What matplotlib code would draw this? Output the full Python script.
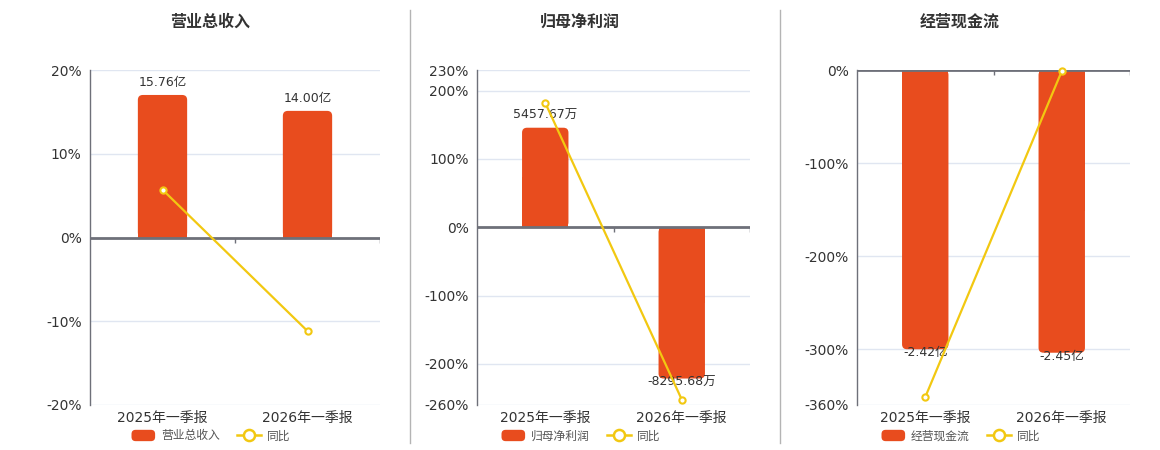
import matplotlib
matplotlib.use("Agg")
import matplotlib.pyplot as plt
from matplotlib.patches import FancyBboxPatch, Rectangle, Patch
from matplotlib.lines import Line2D
from matplotlib.legend_handler import HandlerPatch

plt.rcParams['font.family'] = ['DejaVu Sans', 'Noto Sans CJK SC']

# ---------------- data ----------------
categories = ["2025年一季报", "2026年一季报"]

titles = ["营业总收入", "归母净利润", "经营现金流"]
bar_names = ["营业总收入", "归母净利润", "经营现金流"]
line_name = "同比"

revenue = [15.76, 14.00]            # 亿
revenue_labels = ["15.76亿", "14.00亿"]
revenue_yoy = [5.71, -11.17]        # %

net_profit = [5457.67, -8295.68]    # 万
net_profit_labels = ["5457.67万", "-8295.68万"]
net_profit_yoy = [182.0, -252.0]    # %

cash_flow = [-2.42, -2.45]          # 亿
cash_flow_labels = ["-2.42亿", "-2.45亿"]
cash_flow_yoy = [-351.5, -1.24]     # %

pct_ticks = [[20, 10, 0, -10, -20],
             [230, 200, 100, 0, -100, -200, -260],
             [0, -100, -200, -300, -360]]

# bar-axis units per 1 % on the percent axis (zero-aligned dual axes)
bar_scale = [0.926, 37.49, 0.008064]

# ---------------- styles ----------------
BAR_C = "#E84C1E"
LINE_C = "#F2C811"
TXT = "#333333"
AXIS_C = "#6E7079"
GRID_C = "#E0E6F1"

W, H = 1160, 450
fig = plt.figure(figsize=(W / 100, H / 100), dpi=100)

panels_px = [(90, 380), (477, 750), (857, 1130)]
title_x = [210, 580, 960]
legend_cx = [211, 581, 961]
top_px, bot_px = 70, 405

bars_all = [revenue, net_profit, cash_flow]
labels_all = [revenue_labels, net_profit_labels, cash_flow_labels]
yoy_all = [revenue_yoy, net_profit_yoy, cash_flow_yoy]


def round_bars(ax, rects, r_px=5):
    bb = ax.get_position()
    wpx = bb.width * W
    hpx = bb.height * H
    x0, x1 = ax.get_xlim()
    y0, y1 = ax.get_ylim()
    sx = wpx / (x1 - x0)
    sy = hpx / (y1 - y0)
    for b in rects:
        x, y, w, h = b.get_x(), b.get_y(), b.get_width(), b.get_height()
        yb = min(y, y + h)
        hh = abs(h)
        rx = min(r_px / sx, w / 2)
        p = FancyBboxPatch((x, yb), w, hh,
                           boxstyle=f"round,pad=0,rounding_size={rx}",
                           mutation_aspect=sx / sy,
                           fc=BAR_C, ec='none', zorder=2)
        ax.add_patch(p)
        if h >= 0:
            sq = Rectangle((x, 0), w, hh / 2, fc=BAR_C, ec='none', zorder=2)
        else:
            sq = Rectangle((x, -hh / 2), w, hh / 2, fc=BAR_C, ec='none', zorder=2)
        ax.add_patch(sq)
        b.set_visible(False)


def rounded_handle(legend, orig_handle, xdescent, ydescent, width, height, fontsize):
    return FancyBboxPatch((-xdescent, -ydescent), width, height,
                          boxstyle="round,pad=0,rounding_size=3")


xs = list(range(len(categories)))

for i in range(3):
    l, r = panels_px[i]
    rect = [l / W, 1 - bot_px / H, (r - l) / W, (bot_px - top_px) / H]
    ax = fig.add_axes(rect)
    ticks = pct_ticks[i]
    ylo, yhi = min(ticks), max(ticks)
    ax.set_xlim(-0.5, len(categories) - 0.5)
    ax.set_ylim(ylo, yhi)
    for t in ticks:
        if t != 0:
            ax.axhline(t, color=GRID_C, lw=1, zorder=0)
    ax.set_yticks(ticks)
    ax.set_yticklabels([f"{t}%" for t in ticks])
    ax.set_xticks(xs)
    ax.set_xticklabels(categories)
    ax.tick_params(axis='y', length=0, pad=6, labelsize=10, labelcolor=TXT)
    ax.tick_params(axis='x', length=0, pad=4, labelsize=10, labelcolor=TXT)
    for s in ['top', 'right', 'bottom']:
        ax.spines[s].set_visible(False)
    ax.spines['left'].set_color(AXIS_C)
    ax.spines['left'].set_linewidth(1)

    # bars on a twin axis (hidden)
    axb = ax.twinx()
    k = bar_scale[i]
    axb.set_ylim(ylo * k, yhi * k)
    axb.set_xlim(-0.5, len(categories) - 0.5)
    axb.axis('off')
    rects = axb.bar(xs, bars_all[i], width=0.34, color=BAR_C, zorder=2)
    round_bars(axb, rects)
    for x, v, lab in zip(xs, bars_all[i], labels_all[i]):
        if v >= 0:
            axb.annotate(lab, (x, v), xytext=(0, 4), textcoords='offset points',
                         ha='center', va='bottom', fontsize=9, color=TXT, zorder=5)
        else:
            axb.annotate(lab, (x, v), xytext=(0, 2), textcoords='offset points',
                         ha='center', va='top', fontsize=9, color=TXT, zorder=5)

    # line on another twin axis
    axl = ax.twinx()
    axl.set_ylim(ylo, yhi)
    axl.set_xlim(-0.5, len(categories) - 0.5)
    axl.axis('off')
    # zero axis line with category ticks
    axl.axhline(0, color=AXIS_C, lw=2, zorder=3)
    tick_len = 5 * (yhi - ylo) / (bot_px - top_px)
    for bx in [0.5, 1.5]:
        axl.plot([bx, bx], [0, -tick_len], color=AXIS_C, lw=1, zorder=3,
                 solid_capstyle='butt')
    axl.plot(xs, yoy_all[i], color=LINE_C, lw=1.6, marker='o', markersize=4.5,
             markerfacecolor='white', markeredgecolor=LINE_C, markeredgewidth=1.5,
             zorder=4, clip_on=False)

    fig.text(title_x[i] / W, 1 - 22 / H, titles[i], ha='center', va='center',
             fontsize=11.5, fontweight='bold', color=TXT)

    bar_handle = Patch(facecolor=BAR_C, edgecolor='none', label=bar_names[i])
    line_handle = Line2D([0], [0], color=LINE_C, lw=1.8, marker='o', markersize=8,
                         markerfacecolor='white', markeredgecolor=LINE_C,
                         markeredgewidth=1.8, label=line_name)
    fig.legend(handles=[bar_handle, line_handle], loc='center',
               bbox_to_anchor=(legend_cx[i] / W, 1 - 436 / H),
               ncol=2, frameon=False, fontsize=8.5, handlelength=2.0,
               handleheight=1.1, handletextpad=0.5, columnspacing=1.5,
               labelcolor='#555555', borderpad=0,
               handler_map={Patch: HandlerPatch(patch_func=rounded_handle)})

# separators
for sx_ in [410, 780]:
    fig.add_artist(Line2D([sx_ / W, sx_ / W], [1 - 10 / H, 1 - 443 / H],
                          color="#B4B4B4", lw=1))

fig.savefig("out.png", dpi=100, facecolor='white')
